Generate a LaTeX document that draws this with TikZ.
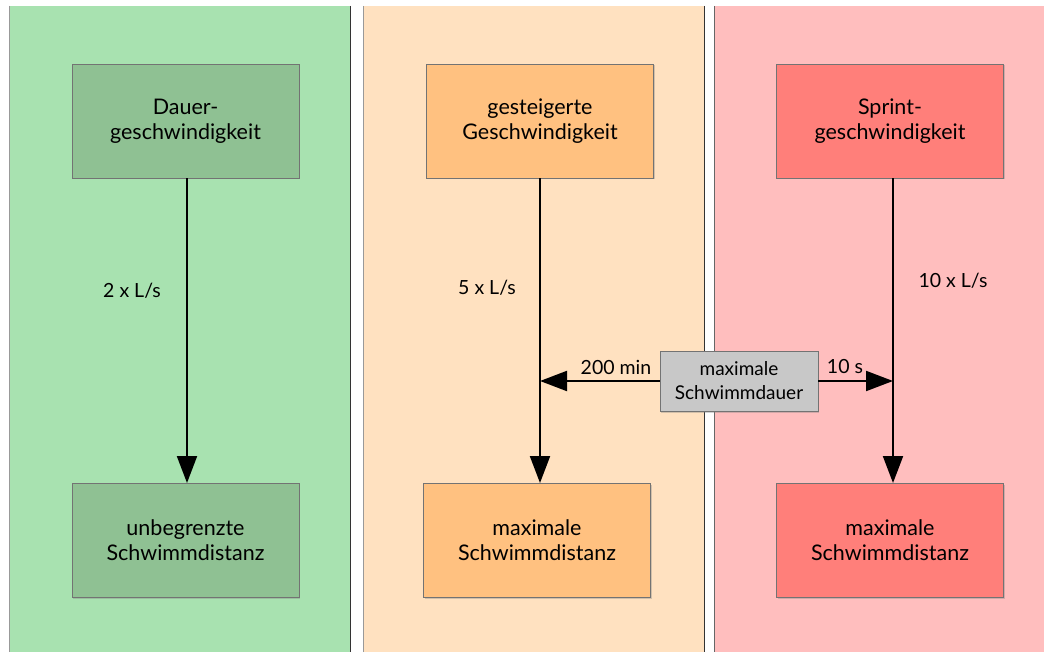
\documentclass[tikz,border=0pt]{standalone}
\usepackage{fontspec}
\setmainfont{Lato}
\usetikzlibrary{arrows.meta,shadows}
\definecolor{gpanel}{HTML}{A8E2B0}
\definecolor{gbox}{HTML}{8FC193}
\definecolor{opanel}{HTML}{FFE1C0}
\definecolor{obox}{HTML}{FFC180}
\definecolor{rpanel}{HTML}{FFBEBE}
\definecolor{rbox}{HTML}{FF7F7A}
\definecolor{graybox}{HTML}{C8C8C8}
\begin{document}
\begin{tikzpicture}[x=1pt,y=-1pt,
  panel/.style={draw=none},
  edgedark/.style={draw=black!80,line width=0.9pt},
  edgelight/.style={draw=black!40,line width=0.8pt},
  stepbox/.style={draw=black!55,line width=0.8pt,minimum width=227pt,minimum height=114pt,
    align=center,font=\fontsize{21.5}{25}\selectfont,inner sep=0pt,
    drop shadow={shadow xshift=1pt,shadow yshift=-1.5pt,opacity=0.35}},
  lbl/.style={font=\fontsize{19.5}{22}\selectfont,inner sep=0pt},
  arr/.style={line width=2pt,-{Triangle[length=27pt,width=20pt]}}]
\useasboundingbox (0,0) rectangle (1044,652);
\fill[white] (0,0) rectangle (1044,652);
\fill[gpanel] (9,6) rectangle (350,652);
\fill[opanel] (363,6) rectangle (704,652);
\fill[rpanel] (714,6) rectangle (1044,652);
\draw[edgelight] (9,6) -- (9,652);
\draw[edgedark] (350,6) -- (350,652);
\draw[edgelight] (363,6) -- (363,652);
\draw[edgedark] (704,6) -- (704,652);
\draw[edgedark,draw=black!60] (714,6) -- (714,652);
\node[stepbox,fill=gbox] (g1) at (185.5,121) {Dauer-\\geschwindigkeit};
\node[stepbox,fill=gbox] (g2) at (185.5,540) {unbegrenzte\\Schwimmdistanz};
\node[stepbox,fill=obox] (o1) at (540,121) {gesteigerte\\Geschwindigkeit};
\node[stepbox,fill=obox] (o2) at (537,540) {maximale\\Schwimmdistanz};
\node[stepbox,fill=rbox] (r1) at (890,121) {Sprint-\\geschwindigkeit};
\node[stepbox,fill=rbox] (r2) at (890,540) {maximale\\Schwimmdistanz};
\node[stepbox,fill=graybox,minimum width=158pt,minimum height=60pt,font=\fontsize{19}{24}\selectfont] (d) at (739,381) {maximale\\Schwimmdauer};
\coordinate (ga) at (187,178.4);
\coordinate (gb) at (187,483);
\coordinate (oa) at (540,178.4);
\coordinate (ob) at (540,483);
\coordinate (ra) at (893,178.4);
\coordinate (rb) at (893,483);
\draw[arr] (ga) -- (gb);
\draw[arr] (oa) -- (ob);
\draw[arr] (ra) -- (rb);
\draw[arr] (d.west) -- (540,381);
\draw[arr] (d.east) -- (893,381);
\node[lbl] (l1) at (132,291) {2 x L/s};
\node[lbl] (l2) at (487,288) {5 x L/s};
\node[lbl] (l3) at (953,281) {10 x L/s};
\node[lbl] (l4) at (616,367) {200 min};
\node[lbl] (l5) at (845,367) {10 s};
\end{tikzpicture}
\end{document}
